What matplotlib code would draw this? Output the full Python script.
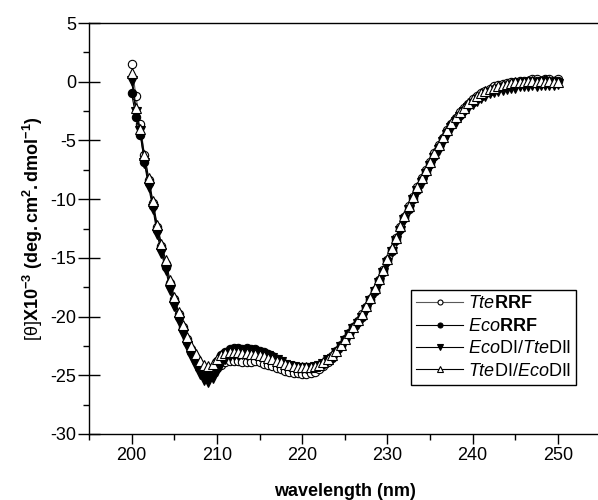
import matplotlib
matplotlib.use("Agg")
import matplotlib.pyplot as plt
import numpy as np
from matplotlib.ticker import MultipleLocator

plt.rcParams['font.family'] = ['Liberation Sans', 'DejaVu Sans']
plt.rcParams['mathtext.fontset'] = 'custom'
plt.rcParams['mathtext.rm'] = 'Liberation Sans'
plt.rcParams['mathtext.it'] = 'Liberation Sans:italic'
plt.rcParams['mathtext.bf'] = 'Liberation Sans:bold'
plt.rcParams['axes.unicode_minus'] = False

# wavelength grid, 0.5 nm steps from 200 to 250 nm
wavelength = np.arange(200, 250.01, 0.5)

tte_rrf = [
    1.5, -1.2, -3.6, -6.2, -8.4, -10.3, -12.4, -14.0, -15.5, -17.1,
    -18.5, -19.8, -20.9, -21.9, -22.8, -23.5, -24.1, -24.6, -24.8, -24.7,
    -24.4, -24.1, -23.9, -23.8, -23.8, -23.8, -23.9, -23.9, -23.9, -23.8,
    -23.9, -24.0, -24.1, -24.2, -24.4, -24.5, -24.6, -24.7, -24.8, -24.8,
    -24.9, -24.9, -24.8, -24.7, -24.5, -24.2, -23.9, -23.4, -22.9, -22.4,
    -21.9, -21.4, -20.9, -20.4, -19.8, -19.2, -18.5, -17.7, -16.9, -16.0,
    -15.2, -14.3, -13.3, -12.4, -11.5, -10.6, -9.8, -9.0, -8.2, -7.5,
    -6.8, -6.1, -5.4, -4.8, -4.1, -3.6, -3.1, -2.6, -2.2, -1.9,
    -1.5, -1.2, -1.0, -0.8, -0.6, -0.4, -0.3, -0.2, -0.1, 0.0,
    0.0, 0.1, 0.1, 0.1, 0.2, 0.2, 0.1, 0.2, 0.2, 0.1,
    0.2]

eco_rrf = [
    -1.0, -3.0, -4.5, -6.8, -8.6, -10.6, -12.6, -14.2, -15.8, -17.3,
    -18.7, -20.0, -21.1, -22.2, -23.0, -23.8, -24.4, -24.8, -24.8, -24.4,
    -23.8, -23.3, -23.0, -22.8, -22.7, -22.7, -22.8, -22.7, -22.8, -22.8,
    -22.9, -23.0, -23.2, -23.4, -23.6, -23.8, -24.0, -24.1, -24.2, -24.3,
    -24.4, -24.4, -24.4, -24.3, -24.2, -24.0, -23.7, -23.5, -23.0, -22.5,
    -22.0, -21.5, -21.0, -20.5, -20.0, -19.3, -18.6, -17.8, -17.0, -16.2,
    -15.3, -14.4, -13.5, -12.5, -11.6, -10.8, -10.0, -9.2, -8.4, -7.7,
    -7.0, -6.3, -5.6, -4.9, -4.3, -3.7, -3.2, -2.8, -2.4, -2.0,
    -1.7, -1.4, -1.2, -1.0, -0.8, -0.6, -0.5, -0.4, -0.3, -0.2,
    -0.1, -0.05, 0.0, 0.05, 0.1, 0.1, 0.1, 0.15, 0.1, 0.1,
    0.1]

eco_di_tte_dii = [
    0.1, -2.6, -4.2, -6.9, -9.0, -10.8, -13.0, -14.6, -16.0, -17.7,
    -19.1, -20.4, -21.5, -22.5, -23.4, -24.2, -24.9, -25.4, -25.6, -25.2,
    -24.6, -24.0, -23.6, -23.4, -23.3, -23.3, -23.2, -23.3, -23.2, -23.3,
    -23.3, -23.3, -23.4, -23.5, -23.7, -23.9, -24.1, -24.2, -24.3, -24.4,
    -24.4, -24.4, -24.4, -24.3, -24.2, -24.0, -23.7, -23.6, -23.1, -22.6,
    -22.1, -21.6, -21.1, -20.6, -20.1, -19.4, -18.7, -17.9, -17.1, -16.3,
    -15.4, -14.5, -13.6, -12.7, -11.8, -10.9, -10.1, -9.3, -8.6, -7.9,
    -7.2, -6.5, -5.8, -5.1, -4.5, -3.9, -3.4, -3.0, -2.6, -2.2,
    -1.9, -1.6, -1.4, -1.2, -1.0, -0.9, -0.8, -0.7, -0.6, -0.5,
    -0.5, -0.4, -0.4, -0.4, -0.3, -0.4, -0.3, -0.3, -0.3, -0.3,
    -0.2]

tte_di_eco_dii = [
    0.7, -2.2, -4.0, -6.2, -8.2, -10.2, -12.2, -13.8, -15.2, -16.9,
    -18.3, -19.6, -20.7, -21.7, -22.5, -23.2, -23.8, -24.1, -24.2, -24.0,
    -23.6, -23.3, -23.1, -23.0, -23.0, -23.0, -23.1, -23.1, -23.2, -23.2,
    -23.3, -23.4, -23.5, -23.6, -23.8, -23.9, -24.0, -24.1, -24.2, -24.3,
    -24.3, -24.3, -24.3, -24.2, -24.1, -23.9, -23.6, -23.3, -22.9, -22.4,
    -21.9, -21.4, -20.9, -20.3, -19.8, -19.1, -18.4, -17.6, -16.8, -16.0,
    -15.1, -14.2, -13.3, -12.3, -11.4, -10.6, -9.8, -9.0, -8.2, -7.5,
    -6.8, -6.1, -5.4, -4.7, -4.1, -3.5, -3.0, -2.6, -2.2, -1.8,
    -1.5, -1.2, -1.0, -0.8, -0.6, -0.5, -0.4, -0.3, -0.2, -0.1,
    0.0, 0.0, 0.0, 0.1, 0.1, 0.0, 0.1, 0.0, 0.1, 0.0,
    0.0]

labels = [r'$\mathit{Tte}\mathbf{RRF}$',
          r'$\mathit{Eco}\mathbf{RRF}$',
          r'$\mathit{Eco}\mathrm{DI/}\mathit{Tte}\mathrm{DII}$',
          r'$\mathit{Tte}\mathrm{DI/}\mathit{Eco}\mathrm{DII}$']

fig = plt.figure(figsize=(5.98, 5.0), dpi=100)
# right edge of the frame falls just outside the picture, as in the original
ax = fig.add_axes([0.1488, 0.132, 0.8555, 0.822])

ms = 6
ax.plot(wavelength, tte_rrf, '-o', color='0.35', lw=0.8, ms=ms,
        mfc='white', mec='black', mew=0.8, label=labels[0])
ax.plot(wavelength, eco_rrf, '-o', color='black', lw=0.8, ms=ms,
        mfc='black', mec='black', mew=0.8, label=labels[1])
ax.plot(wavelength, eco_di_tte_dii, '-v', color='black', lw=0.8, ms=ms + 0.5,
        mfc='black', mec='black', mew=0.8, label=labels[2])
ax.plot(wavelength, tte_di_eco_dii, '-^', color='black', lw=0.8, ms=ms + 0.5,
        mfc='white', mec='black', mew=0.8, label=labels[3])

ax.set_xlim(195, 255)
ax.set_ylim(-30, 5)
ax.xaxis.set_major_locator(MultipleLocator(10))
ax.xaxis.set_minor_locator(MultipleLocator(5))
ax.yaxis.set_major_locator(MultipleLocator(5))
ax.yaxis.set_minor_locator(MultipleLocator(2.5))

ax.spines['right'].set_visible(False)
for s in ['left', 'bottom', 'top']:
    ax.spines[s].set_linewidth(1.0)

ax.tick_params(axis='x', which='major', direction='out', length=7, width=1,
               labelsize=13, pad=2)
ax.tick_params(axis='x', which='minor', direction='out', length=4, width=1)
ax.tick_params(axis='y', which='major', direction='inout', length=16, width=1,
               labelsize=13, pad=1)
ax.tick_params(axis='y', which='minor', direction='out', length=4, width=1)

ax.set_xlabel('wavelength (nm)', fontsize=13, fontweight='bold', labelpad=14)
ax.set_ylabel(r'$\mathrm{[\theta]}\mathbf{X10^{-3}\ (deg.cm^{2}.dmol^{-1})}$',
              fontsize=13, labelpad=4)

leg = ax.legend(loc='lower right', bbox_to_anchor=(0.952, 0.119),
                borderaxespad=0, fontsize=13, frameon=True, fancybox=False,
                edgecolor='black', framealpha=1, markerscale=0.6,
                handlelength=2.6, handletextpad=0.25, labelspacing=0.3,
                borderpad=0.3)
leg.get_frame().set_linewidth(1.0)

fig.savefig('out.png', dpi=100)
